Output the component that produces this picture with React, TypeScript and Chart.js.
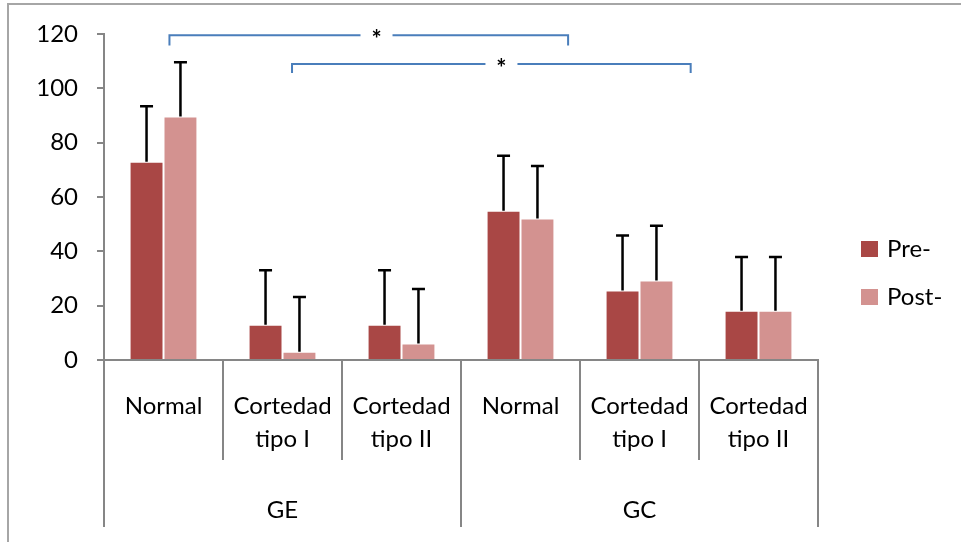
import React, { useEffect, useRef } from "react";
import { Chart, registerables } from "chart.js";

Chart.register(...registerables);

// ---- data ----
const categories: string[][] = [
  ["Normal"],
  ["Cortedad", "tipo I"],
  ["Cortedad", "tipo II"],
  ["Normal"],
  ["Cortedad", "tipo I"],
  ["Cortedad", "tipo II"],
];
const groups = ["GE", "GC"];
const seriesNames = ["Pre-", "Post-"];
const preValues = [73, 13, 13, 54.9, 25.6, 18.1];
const postValues = [89.6, 3, 6.1, 52.1, 29.3, 18.1];
const preErrors = [20.4, 20, 20, 20.3, 20.2, 19.8];
const postErrors = [20, 20.2, 20, 19.3, 20.1, 19.8];
const yMin = 0;
const yMax = 120;
const yStep = 20;
// significance brackets: category-index start/end, bar level, drop level, star position
const bracketFrom = [0.05, 1.08];
const bracketTo = [3.4, 4.43];
const bracketLevel = [119.5, 109];
const bracketDrop = [115.8, 105.6];
const bracketStarAt = [1.79, 2.84];
const bracketLabel = ["*", "*"];

const PRE_COLOR = "#A94745";
const POST_COLOR = "#D39290";
const AXIS_COLOR = "#868686";
const FONT = "Lato, 'Open Sans', sans-serif";
const FONT_SIZE = 24;

const overlayPlugin = {
  id: "overlay",
  beforeDraw(chart: any) {
    const ctx = chart.ctx;
    ctx.save();
    ctx.strokeStyle = "#A6A6A6";
    ctx.lineWidth = 2;
    ctx.beginPath();
    ctx.moveTo(chart.width + 10, 4);
    ctx.lineTo(8, 4);
    ctx.lineTo(8, chart.height + 10);
    ctx.stroke();
    ctx.restore();
  },
  afterDatasetsDraw(chart: any) {
    const ctx = chart.ctx;
    const yScale = chart.scales.y;
    const errs = [preErrors, postErrors];
    const vals = [preValues, postValues];
    ctx.save();
    ctx.strokeStyle = "#000";
    ctx.lineWidth = 2.5;
    chart.data.datasets.forEach((_: any, di: number) => {
      const meta = chart.getDatasetMeta(di);
      meta.data.forEach((el: any, i: number) => {
        const top = yScale.getPixelForValue(vals[di][i] + errs[di][i]);
        ctx.beginPath();
        ctx.moveTo(el.x, el.y);
        ctx.lineTo(el.x, top);
        ctx.moveTo(el.x - 6.5, top);
        ctx.lineTo(el.x + 6.5, top);
        ctx.stroke();
      });
    });
    ctx.restore();
  },
  afterDraw(chart: any) {
    const ctx = chart.ctx;
    const x = chart.scales.x;
    const y = chart.scales.y;
    const area = chart.chartArea;
    ctx.save();
    // category dividers
    ctx.strokeStyle = AXIS_COLOR;
    ctx.lineWidth = 2;
    for (let i = 0; i <= categories.length; i++) {
      const px = x.getPixelForValue(i - 0.5);
      const outer = i % 3 === 0;
      ctx.beginPath();
      ctx.moveTo(px, area.bottom);
      ctx.lineTo(px, area.bottom + (outer ? 167 : 100));
      ctx.stroke();
    }
    // group labels
    ctx.fillStyle = "#000";
    ctx.font = `${FONT_SIZE}px ${FONT}`;
    ctx.textAlign = "center";
    ctx.textBaseline = "middle";
    groups.forEach((g, gi) => {
      const px = x.getPixelForValue(gi * 3 + 1);
      ctx.fillText(g, px, area.bottom + 150);
    });
    // brackets
    ctx.strokeStyle = "#4A7EBB";
    ctx.lineWidth = 2;
    bracketFrom.forEach((f, bi) => {
      const x1 = x.getPixelForValue(f);
      const x2 = x.getPixelForValue(bracketTo[bi]);
      const yl = y.getPixelForValue(bracketLevel[bi]);
      const yd = y.getPixelForValue(bracketDrop[bi]);
      const xs = x.getPixelForValue(bracketStarAt[bi]);
      const gap = 16;
      ctx.beginPath();
      ctx.moveTo(x1, yd);
      ctx.lineTo(x1, yl);
      ctx.lineTo(xs - gap, yl);
      ctx.moveTo(xs + gap, yl);
      ctx.lineTo(x2, yl);
      ctx.lineTo(x2, yd);
      ctx.stroke();
      ctx.fillStyle = "#000";
      ctx.font = `bold 24px ${FONT}`;
      ctx.textAlign = "center";
      ctx.textBaseline = "middle";
      ctx.fillText(bracketLabel[bi], xs, yl + 5);
    });
    // legend
    const colors = [PRE_COLOR, POST_COLOR];
    const lx = area.right + 43;
    const ly0 = 241;
    seriesNames.forEach((n, i) => {
      const ly = ly0 + i * 48;
      ctx.fillStyle = colors[i];
      ctx.fillRect(lx, ly, 17, 16);
      ctx.fillStyle = "#000";
      ctx.font = `${FONT_SIZE}px ${FONT}`;
      ctx.textAlign = "left";
      ctx.textBaseline = "middle";
      ctx.fillText(n, lx + 26, ly + 8);
    });
    ctx.restore();
  },
};

export default function App() {
  const ref = useRef<HTMLCanvasElement | null>(null);
  useEffect(() => {
    if (!ref.current) return;
    const chart = new Chart(ref.current, {
      type: "bar",
      data: {
        labels: categories,
        datasets: [
          {
            label: seriesNames[0],
            data: preValues,
            backgroundColor: PRE_COLOR,
            borderColor: "rgba(255,255,255,0.12)",
            borderWidth: 1,
            categoryPercentage: 0.57,
            barPercentage: 1,
          },
          {
            label: seriesNames[1],
            data: postValues,
            backgroundColor: POST_COLOR,
            borderColor: "rgba(255,255,255,0.2)",
            borderWidth: 1,
            categoryPercentage: 0.57,
            barPercentage: 1,
          },
        ],
      },
      options: {
        responsive: false,
        animation: false,
        devicePixelRatio: 1,
        layout: { padding: { left: 8, top: 34, right: 143, bottom: 0 } },
        plugins: {
          legend: { display: false },
          tooltip: { enabled: false },
        },
        scales: {
          x: {
            type: "category",
            offset: true,
            grid: { display: true, drawOnChartArea: false, drawTicks: false },
            border: { display: true, color: AXIS_COLOR, width: 2 },
            ticks: {
              autoSkip: false,
              maxRotation: 0,
              minRotation: 0,
              padding: 30,
              color: "#000",
              font: { family: FONT, size: FONT_SIZE, lineHeight: 1.375 },
            },
            afterFit: (s: any) => {
              s.height = 182;
            },
          },
          y: {
            min: yMin,
            max: yMax,
            ticks: {
              stepSize: yStep,
              padding: 19,
              color: "#000",
              font: { family: FONT, size: FONT_SIZE },
            },
            grid: {
              drawOnChartArea: false,
              drawTicks: true,
              tickLength: 7,
              color: AXIS_COLOR,
              lineWidth: 2,
            },
            border: { display: true, color: AXIS_COLOR, width: 2 },
            afterFit: (s: any) => {
              s.width = 96;
            },
          },
        },
      },
      plugins: [overlayPlugin],
    });
    return () => chart.destroy();
  }, []);
  return (
    <div style={{ position: "absolute", left: 0, top: 0, width: 961, height: 542, background: "#fff" }}>
      <canvas ref={ref} width={961} height={542} style={{ display: "block" }} />
    </div>
  );
}
